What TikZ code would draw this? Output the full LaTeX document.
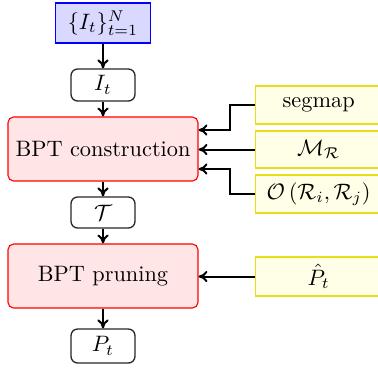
\documentclass[tikz,border=0pt]{standalone}
\usetikzlibrary{arrows.meta}
\def\u{0.4484pt}
\begin{document}
\begin{tikzpicture}[x=\u,y=-\u,
  arr/.style={-{To[length=4pt,width=5pt]},line width=0.9pt},
  small/.style={draw=black!85,line width=0.6pt,rounded corners=3pt,minimum width={64*\u},minimum height={32*\u},inner sep=0pt},
  proc/.style={draw=red,line width=0.5pt,fill=red!10,rounded corners=2.5pt,minimum width={190*\u},minimum height={64*\u},inner sep=0pt},
  param/.style={draw=yellow!90!black,line width=0.6pt,fill=yellow!10,minimum width={126*\u},minimum height={38*\u},inner sep=0pt,anchor=west}]
\useasboundingbox (0,0) rectangle (378,367);
\node[draw=blue,fill=blue!15,line width=0.8pt,minimum width={95*\u},minimum height={40*\u},inner sep=0pt] (in) at (103,23) {$\{I_t\}_{t=1}^{N}$};
\node[small] (It) at (103,85) {$I_t$};
\node[proc] (bc) at (103,149) {BPT construction};
\node[small,minimum height={31*\u}] (T) at (103,212.5) {$\mathcal{T}$};
\node[proc] (bp) at (103,276) {BPT pruning};
\node[small,minimum height={34*\u}] (P) at (103,346) {$P_t$};
\node[param] (seg) at (255,105) {segmap};
\node[param,minimum height={37*\u}] (M) at (255,149.5) {$\mathcal{M}_{\mathcal{R}}$};
\node[param] (O) at (255,194) {$\mathcal{O}\left(\mathcal{R}_i,\mathcal{R}_j\right)$};
\node[param,minimum height={39*\u}] (Ph) at (255,276.5) {$\hat{P}_t$};
\draw[arr] (in) -- (It);
\draw[arr] (It) -- (bc);
\draw[arr] (bc) -- (T);
\draw[arr] (T) -- (bp);
\draw[arr] (bp) -- (P);
\draw[arr] (seg.west) -- ++(-25,0) |- ([yshift={19*\u}]bc.east);
\draw[arr] (M.west) -- (M.west -| bc.east);
\draw[arr] (O.west) -- ++(-25,0) |- ([yshift={-20*\u}]bc.east);
\draw[arr] (Ph.west) -- (Ph.west -| bp.east);
\end{tikzpicture}
\end{document}
